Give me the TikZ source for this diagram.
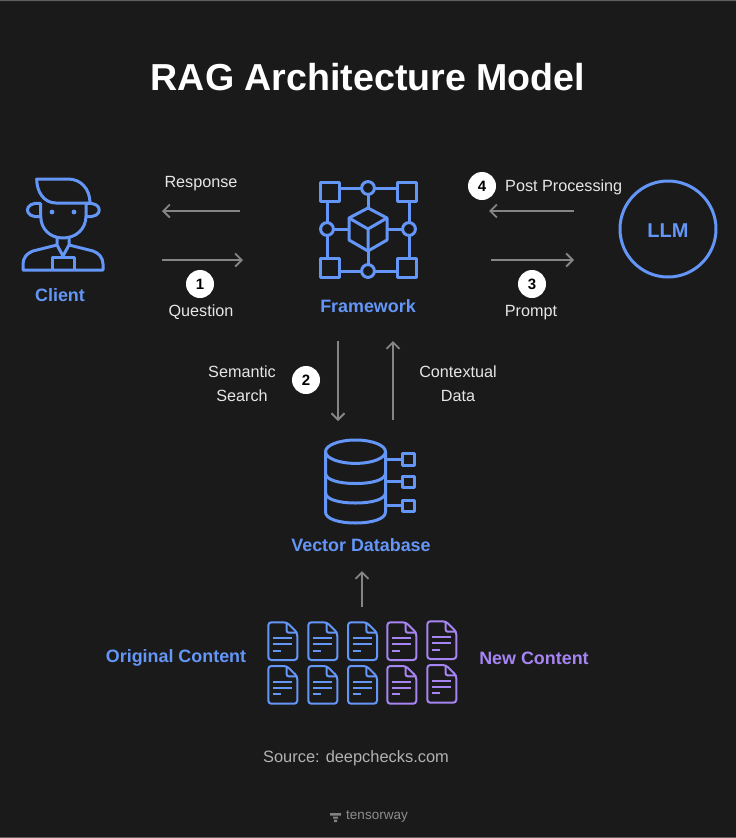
\documentclass[tikz,border=0pt]{standalone}
\usepackage{fontspec}
\setmainfont{Liberation Sans}
\usetikzlibrary{arrows.meta}
\definecolor{bgdark}{HTML}{1A1A1A}
\definecolor{iconblue}{HTML}{6496F8}
\definecolor{iconpurple}{HTML}{A685F2}
\definecolor{flowgray}{HTML}{858585}
\definecolor{labelwhite}{HTML}{E6E6E6}
\tikzset{
  icon/.style={iconblue,line width=3pt,line join=round},
  flow/.style={flowgray,line width=1.9pt,-{Straight Barb[length=6.5pt,width=13pt,line width=1.9pt]}},
  caption/.style={labelwhite,font=\fontsize{16.2}{24}\selectfont,align=center,inner sep=0pt},
  iconlabel/.style={iconblue,font=\fontsize{17.9}{20}\selectfont\bfseries,inner sep=0pt},
  stepmark/.style={circle,fill=white,text=black,minimum size=28pt,inner sep=0pt,font=\fontsize{15}{15}\selectfont\bfseries},
  doc/.pic={
    \draw[line width=2pt,rounded corners=3pt] (0,0) -- (18.4,0) -- (29,10.4) -- (29,37.7) -- (0,37.7) -- cycle;
    \draw[line width=2pt,rounded corners=2pt] (18.4,0) -- (18.4,10.4) -- (29,10.4);
    \draw[line width=2pt] (5,16) -- (24,16) (5,22) -- (24,22) (5,28.4) -- (12.6,28.4);
  }
}
\begin{document}
\begin{tikzpicture}[x=1pt,y=-1pt]
  \useasboundingbox (0,0) rectangle (736,838);
  \fill[bgdark] (0,0) rectangle (736,838);
  \fill[white!30!bgdark] (0,0) rectangle (736,1) (0,837) rectangle (736,838);
  \node[white,font=\fontsize{37.6}{40}\selectfont\bfseries,inner sep=0pt] (title) at (368,77) {RAG Architecture Model};
  % ---------- client ----------
  \draw[icon] (36.7,179) -- (68,179) .. controls (81,179) and (90,189) .. (90,203) -- (56,203) .. controls (44,203) and (36.7,192) .. cycle;
  \draw[icon] (40.7,203) -- (40.7,216) .. controls (40.7,229) and (50,238) .. (63,238) .. controls (76,238) and (86,229) .. (86,216) -- (86,203);
  \draw[icon] (40.7,203.5) .. controls (23,201) and (23,219) .. (40.7,216.5);
  \draw[icon] (86,203.5) .. controls (103.7,201) and (103.7,219) .. (86,216.5);
  \fill[iconblue] (52,212) circle (2.4pt) (74,212) circle (2.4pt);
  \draw[icon] (57,238) -- (57,245) -- (63,256) -- (69,245) -- (69,238);
  \draw[icon] (57,245) -- (33,251) .. controls (27,253) and (23,258) .. (23,264) -- (23,270) -- (103,270) -- (103,264) .. controls (103,258) and (99,253) .. (93,251) -- (69,245);
  \draw[icon] (52,270) -- (52,257) -- (74,257) -- (74,270);
  \node[iconlabel] (client) at (60,295) {Client};
  % ---------- framework ----------
  \foreach \x/\y in {320/182,397/182,320/258,397/258}
    {\draw[icon] (\x,\y) rectangle +(19,19);}
  \foreach \x/\y in {368/188,368/271,327/229,409/229}
    {\draw[icon] (\x,\y) circle (6.4pt);}
  \draw[icon] (339,188) -- (361.6,188) (374.4,188) -- (397,188)
    (339,271) -- (361.6,271) (374.4,271) -- (397,271)
    (327,201) -- (327,222.6) (327,235.4) -- (327,258)
    (409,201) -- (409,222.6) (409,235.4) -- (409,258)
    (368,194.4) -- (368,208) (368,251) -- (368,264.6)
    (333.4,229) -- (349,229) (387,229) -- (402.6,229);
  \draw[icon] (368,208) -- (387,218) -- (387,240) -- (368,251) -- (349,240) -- (349,218) -- cycle;
  \draw[icon] (349,218) -- (368,229) -- (387,218) (368,229) -- (368,251);
  \node[iconlabel] (framework) at (368,306) {Framework};
  % ---------- llm ----------
  \node[circle,draw=iconblue,line width=3pt,minimum size=96pt,inner sep=0pt] (llm) at (668,229) {};
  \node[iconblue,font=\fontsize{20}{20}\selectfont\bfseries,inner sep=0pt] (llmlabel) at (668,231) {LLM};
  % ---------- vector database ----------
  \draw[icon] (355.5,451.7) ellipse (30pt and 11.7pt);
  \draw[icon] (325.5,451.7) -- (325.5,512) .. controls (325.5,519) and (339,523) .. (355.5,523) .. controls (372,523) and (385.5,519) .. (385.5,512) -- (385.5,451.7);
  \draw[icon] (325.5,473) .. controls (325.5,480) and (339,483.5) .. (355.5,483.5) .. controls (372,483.5) and (385.5,480) .. (385.5,473);
  \draw[icon] (325.5,492.5) .. controls (325.5,499.5) and (339,503) .. (355.5,503) .. controls (372,503) and (385.5,499.5) .. (385.5,492.5);
  \foreach \y in {459.5,481.7,505.7}
    {\draw[icon] (385.5,\y) -- (402,\y);
     \draw[icon] (402,\y-5.7) rectangle +(12,11.4);}
  \node[iconlabel] (vectordb) at (361,545) {Vector Database};
  % ---------- documents ----------
  \foreach \x/\y in {268.3/622.3,308.3/622.3,348/622.3,268.3/666,308.3/666,348/666}
    {\pic[iconblue] at (\x,\y) {doc};}
  \foreach \x/\y in {387.3/622.3,427.3/621.3,387.3/666,427.3/665}
    {\pic[iconpurple] at (\x,\y) {doc};}
  \node[iconlabel] (original) at (176,658) {Original Content};
  \node[iconlabel,iconpurple] (newcontent) at (534,658) {New Content};
  % ---------- flows ----------
  \coordinate (respstart) at (240,211);
  \coordinate (respend) at (162,211);
  \coordinate (queststart) at (162,260);
  \coordinate (questend) at (243,260);
  \coordinate (poststart) at (574,211);
  \coordinate (postend) at (489,211);
  \coordinate (promptstart) at (491,260);
  \coordinate (promptend) at (574,260);
  \coordinate (searchstart) at (338,341);
  \coordinate (searchend) at (338,421);
  \coordinate (contextstart) at (393,420);
  \coordinate (contextend) at (393,341);
  \coordinate (ingeststart) at (362,607);
  \coordinate (ingestend) at (362,571);
  \foreach \a/\b in {respstart/respend,queststart/questend,poststart/postend,promptstart/promptend,searchstart/searchend,contextstart/contextend,ingeststart/ingestend}
    {\draw[flow] (\a) -- (\b);}
  % ---------- captions ----------
  \node[caption] (response) at (201,183.5) {Response};
  \node[stepmark] (one) at (200,284) {1};
  \node[caption] (question) at (201,312) {Question};
  \node[stepmark] (four) at (482,186) {4};
  \node[caption,anchor=west] (postproc) at (505,187) {Post Processing};
  \node[stepmark] (three) at (532,284) {3};
  \node[caption] (prompt) at (531,313) {Prompt};
  \node[caption] (semantic) at (242,384) {Semantic\\Search};
  \node[stepmark] (two) at (306,380) {2};
  \node[caption] (contextual) at (458,384) {Contextual\\Data};
  \node[caption,text=labelwhite!75!bgdark,font=\fontsize{16.4}{18}\selectfont] (source) at (356,758) {Source: deepchecks.com};
  % ---------- footer mark ----------
  \fill[white!45!bgdark] (330,813) rectangle (341,815.5) (333,816.5) rectangle (338,818.5) (334,819.5) rectangle (337,822);
  \node[caption,text=white!50!bgdark,font=\fontsize{13.5}{14}\selectfont] (brand) at (377,817) {tensorway};
\end{tikzpicture}
\end{document}
